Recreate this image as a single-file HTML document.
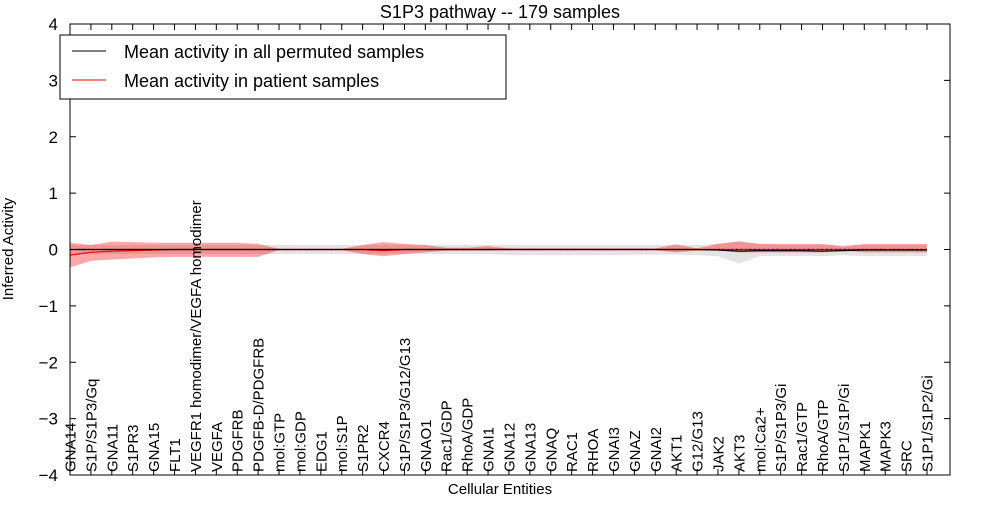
<!DOCTYPE html>
<html><head><meta charset="utf-8"><style>
body{margin:0;background:#fff}
svg text{font-family:"Liberation Sans","DejaVu Sans",sans-serif}
</style></head><body>
<svg id="chart" width="1000" height="500" xmlns="http://www.w3.org/2000/svg">
<rect width="1000" height="500" fill="#fff"/>
<g id="marks"></g>
<rect x="70" y="24" width="880" height="451" fill="none" stroke="#000" stroke-width="1"/>
<text x="500" y="18" text-anchor="middle" font-size="18">S1P3 pathway -- 179 samples</text>
<text x="500" y="494" text-anchor="middle" font-size="15">Cellular Entities</text>
<text transform="translate(13,249) rotate(-90)" text-anchor="middle" font-size="15">Inferred Activity</text>
<g id="axes"></g>
<g>
<rect x="60" y="35" width="446" height="64" fill="#fff" stroke="#000"/>
<line x1="72" y1="51" x2="106" y2="51" stroke="#000" stroke-width="1"/>
<text x="124" y="58" font-size="18">Mean activity in all permuted samples</text>
<line x1="72" y1="80" x2="106" y2="80" stroke="#f00" stroke-width="1"/>
<text x="124" y="87" font-size="18">Mean activity in patient samples</text>
</g>
</svg>
<script>
const categories=["GNA14","S1P/S1P3/Gq","GNA11","S1PR3","GNA15","FLT1","VEGFR1 homodimer/VEGFA homodimer","VEGFA","PDGFRB","PDGFB-D/PDGFRB","mol:GTP","mol:GDP","EDG1","mol:S1P","S1PR2","CXCR4","S1P/S1P3/G12/G13","GNAO1","Rac1/GDP","RhoA/GDP","GNAI1","GNA12","GNA13","GNAQ","RAC1","RHOA","GNAI3","GNAZ","GNAI2","AKT1","G12/G13","JAK2","AKT3","mol:Ca2+","S1P/S1P3/Gi","Rac1/GTP","RhoA/GTP","S1P1/S1P/Gi","MAPK1","MAPK3","SRC","S1P1/S1P2/Gi"];
const redMean=[-0.1,-0.05,-0.03,-0.02,-0.01,0,0,0,0,0,0,0,0,0,0,-0.02,0,0,0,0,0,0,0,0,0,0,0,0,0,0,0,0,0,0,0,0,0,0,0,0,0,0];
const redLo=[-0.32,-0.2,-0.18,-0.16,-0.14,-0.13,-0.13,-0.13,-0.13,-0.13,-0.01,-0.01,-0.01,-0.01,-0.08,-0.12,-0.08,-0.05,-0.02,-0.02,-0.02,-0.01,-0.01,-0.01,-0.01,-0.01,-0.01,-0.01,-0.01,-0.05,-0.02,-0.02,-0.05,-0.05,-0.05,-0.05,-0.05,-0.02,-0.05,-0.05,-0.05,-0.05];
const redHi=[0.12,0.08,0.14,0.13,0.12,0.12,0.12,0.12,0.12,0.1,0.01,0.01,0.01,0.01,0.08,0.13,0.1,0.08,0.03,0.03,0.06,0.02,0.02,0.02,0.02,0.02,0.02,0.02,0.02,0.09,0.02,0.1,0.14,0.1,0.1,0.1,0.1,0.05,0.1,0.1,0.1,0.1];
const greyMean=[0,0,0,0,0,0,0,0,0,0,0,0,0,0,0,0,0,0,0,0,0,0,0,0,0,0,0,0,0,0,0,-0.01,-0.03,-0.02,-0.02,-0.02,-0.03,-0.02,-0.01,-0.01,-0.01,-0.01];
const greyLo=[-0.08,-0.08,-0.08,-0.08,-0.08,-0.08,-0.08,-0.08,-0.08,-0.08,-0.08,-0.08,-0.08,-0.08,-0.08,-0.08,-0.08,-0.08,-0.08,-0.08,-0.08,-0.1,-0.1,-0.1,-0.1,-0.1,-0.1,-0.09,-0.09,-0.09,-0.1,-0.12,-0.25,-0.12,-0.12,-0.12,-0.12,-0.1,-0.12,-0.12,-0.12,-0.12];
const greyHi=[0.08,0.08,0.08,0.08,0.08,0.08,0.08,0.08,0.08,0.08,0.08,0.08,0.08,0.08,0.08,0.08,0.08,0.08,0.08,0.08,0.08,0.08,0.08,0.08,0.08,0.08,0.08,0.08,0.08,0.08,0.08,0.1,0.15,0.1,0.08,0.08,0.08,0.08,0.08,0.08,0.08,0.08];
const yTicks=[-4,-3,-2,-1,0,1,2,3,4];
const NS="http://www.w3.org/2000/svg";
const X0=70,X1=950,Y0=475,Y1=24;
function xs(i){return 70+i*(927-70)/(categories.length-1);}
function ys(v){return Y0-(v-(-4))*(Y0-Y1)/8;}
const marks=document.getElementById('marks'),axes=document.getElementById('axes');
function mk(t,a,p){const e=document.createElementNS(NS,t);for(const k in a)e.setAttribute(k,a[k]);p.appendChild(e);return e;}
function band(lo,hi,fill,op,name){let d='';lo.forEach((v,i)=>d+=(i?'L':'M')+xs(i)+','+ys(v));for(let i=hi.length-1;i>=0;i--)d+='L'+xs(i)+','+ys(hi[i]);
const e=mk('path',{d:d+'Z',fill:fill,'fill-opacity':op},marks);

}
function line(arr,col,name,dash){const e=mk('polyline',{points:arr.map((v,i)=>xs(i)+','+ys(v)).join(' '),fill:'none',stroke:col,'stroke-width':1.2},marks);
if(dash)e.setAttribute('stroke-dasharray',dash);

}
band(greyLo,greyHi,'#bbb',0.4,'permuted-band');
band(redLo,redHi,'#f00',0.35,'patient-band');
line(redMean,'#f00','patient-mean-line');
line(greyMean,'#000','permuted-mean-line');
line(categories.map(()=>0),'#000','zero-dotted-line','1.5,3');
yTicks.forEach(v=>{const y=ys(v);
mk('line',{x1:X0,x2:X0+6,y1:y,y2:y,stroke:'#000'},axes);
mk('line',{x1:X1-6,x2:X1,y1:y,y2:y,stroke:'#000'},axes);
const t=mk('text',{x:X0-12,y:y+6,'text-anchor':'end','font-size':17},axes);t.textContent=(v<0?'\u2212'+(-v):v);

});
categories.forEach((c,i)=>{const x=xs(i);
mk('line',{x1:x,x2:x,y1:Y0,y2:Y0-6,stroke:'#000'},axes);
mk('line',{x1:x,x2:x,y1:Y1,y2:Y1+6,stroke:'#000'},axes);
const t=mk('text',{transform:'translate('+(x+5.5)+',472) rotate(-90)','font-size':15},axes);t.textContent=c;

});
</script>
</body></html>
